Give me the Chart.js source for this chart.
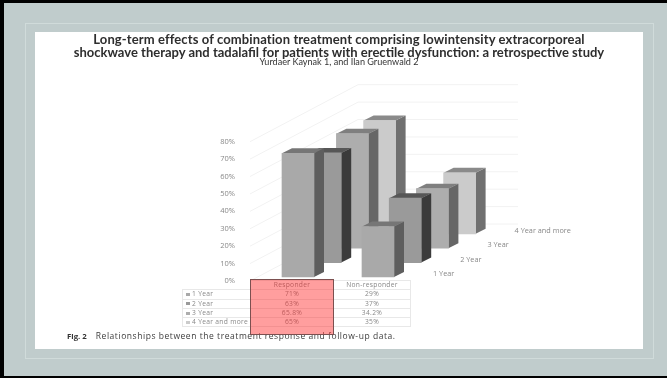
<!DOCTYPE html>
<html>
<head>
<meta charset="utf-8">
<title>Follow-up and treatment response</title>
<script src="https://cdn.jsdelivr.net/npm/chart.js@4"></script>
<style>
  html, body { margin: 0; padding: 0; }
  body { position: relative; width: 667px; height: 378px; overflow: hidden; background: #c0cccc; font-family: Lato, sans-serif; }
  .frame { position: absolute; left: 0; top: 0; height: 372.5px; border-top: 3px solid #000; border-bottom: 3px solid #000; border-left: 4px solid #000; box-sizing: content-box; width: 663px; }
  .inner { position: absolute; left: 25px; top: 23px; width: 627px; height: 334px; border: 1px solid #d0dbda; }
  .sheet { position: absolute; left: 35px; top: 32px; width: 608px; height: 317px; background: #fff; }
  canvas { position: absolute; left: 0; top: 0; }
  .title { position: absolute; left: 35px; width: 608px; text-align: center; font-weight: 700; font-size: 13px; line-height: 13px; top: 33px; color: #2e2e2e; }
  .title span { letter-spacing: .11px; }
  .authors { position: absolute; left: 35px; width: 608px; text-align: center; top: 57px; font-size: 9.1px; line-height: 10px; color: #333; }
  #tabla { position: absolute; left: 182px; top: 280px; border-collapse: collapse; table-layout: fixed; width: 228px; font-family: "Open Sans", sans-serif; font-size: 6.7px; color: #888; }
  #tabla td { height: 9.3px; padding: 0; line-height: 8px; text-align: center; border: 1px solid #e8e8e8; box-sizing: border-box; letter-spacing: .3px; }
  #tabla tr { height: 9.3px; }
  #tabla tr:first-child td:first-child { border: none; }
  #tabla td:first-child { text-align: left; padding-left: 3px; white-space: nowrap; }
  #tabla i { display: inline-block; width: 4px; height: 3px; margin-right: 2px; vertical-align: middle; }
  .caption { position: absolute; left: 67px; top: 331px; font-family: "Open Sans", sans-serif; font-size: 8.5px; line-height: 10px; color: #3c3c3c; letter-spacing: .55px; white-space: nowrap; }
  .caption b { color: #333; margin-right: 9px; letter-spacing: 0; font-size: 7.8px; }
  .marca { position: absolute; left: 250px; top: 279px; width: 82px; height: 54px; border: 1px solid #7c5050; background: rgba(255, 40, 40, .45); }
</style>
</head>
<body>
<div class="frame"></div>
<div class="inner"></div>
<div class="sheet"></div>
<canvas id="grafico" width="667" height="378"></canvas>
<div class="title"><span>Long-term effects of combination treatment comprising lowintensity extracorporeal</span><br>shockwave therapy and tadalafil for patients with erectile dysfunction: a retrospective study</div>
<div class="authors">Yurdaer Kaynak 1, and Ilan Gruenwald 2</div>
<table id="tabla"></table>
<div class="caption"><b>Fig. 2</b>Relationships between the treatment response and follow-up data.</div>
<div class="marca"></div>

<script>
const categorias = ['Responder', 'Non-responder'];
const periodos = ['1 Year', '2 Year', '3 Year', '4 Year and more'];
const ano1 = [71, 29];
const ano2 = [63, 37];
const ano3 = [65.8, 34.2];
const ano4 = [65, 35];
const valores = [ano1, ano2, ano3, ano4];
const marcasEixo = [0, 10, 20, 30, 40, 50, 60, 70, 80];

// frente, lado e topo de cada serie
const coresFrente = ['#a9a9a9', '#9a9a9a', '#adadad', '#cbcbcb'];
const coresLado = ['#5e5e5e', '#3b3b3b', '#666666', '#707070'];
const coresTopo = ['#767676', '#575757', '#7f7f7f', '#8a8a8a'];

// deslocamento de cada serie para o fundo
const passoX = 27.2, passoY = -14.4;
const baseY = -4;
const ladoX = 10, ladoY = -5;

const perspectiva = {
  id: 'perspectiva',
  afterDatasetsUpdate(chart) {
    chart.getSortedVisibleDatasetMetas().forEach(meta => {
      meta.data.forEach(bar => {
        bar.x += meta.index * passoX;
        bar.y += baseY + meta.index * passoY;
        bar.base += baseY + meta.index * passoY;
      });
    });
  },
  beforeDatasetsDraw(chart) {
    // paredes: linhas de grade subindo ate o fundo
    const ctx = chart.ctx;
    const y = chart.scales.y;
    ctx.save();
    ctx.strokeStyle = '#f2f2f2';
    ctx.lineWidth = 1;
    marcasEixo.forEach(v => {
      const py = y.getPixelForValue(v);
      ctx.beginPath();
      ctx.moveTo(250, py);
      ctx.lineTo(358, py - 57);
      ctx.lineTo(518, py - 57);
      ctx.stroke();
    });
    ctx.restore();
  },
  beforeDatasetDraw(chart, args) {
    const ctx = chart.ctx;
    const i = args.index;
    args.meta.data.forEach(bar => {
      const dir = bar.x + bar.width / 2;
      const esq = bar.x - bar.width / 2;
      ctx.fillStyle = coresLado[i];
      ctx.beginPath();
      ctx.moveTo(dir, bar.y);
      ctx.lineTo(dir + ladoX, bar.y + ladoY);
      ctx.lineTo(dir + ladoX, bar.base + ladoY);
      ctx.lineTo(dir, bar.base);
      ctx.closePath();
      ctx.fill();
      ctx.fillStyle = coresTopo[i];
      ctx.beginPath();
      ctx.moveTo(esq, bar.y);
      ctx.lineTo(esq + ladoX, bar.y + ladoY);
      ctx.lineTo(dir + ladoX, bar.y + ladoY);
      ctx.lineTo(dir, bar.y);
      ctx.closePath();
      ctx.fill();
    });
  },
  afterDraw(chart) {
    // nomes das series no eixo de profundidade
    const ctx = chart.ctx;
    const y0 = chart.scales.y.getPixelForValue(0);
    ctx.save();
    ctx.font = '7.3px "Open Sans", sans-serif';
    ctx.fillStyle = '#888888';
    ctx.textBaseline = 'middle';
    periodos.forEach((nome, i) => {
      ctx.fillText(nome, 433 + i * passoX, y0 - 7 + i * passoY);
    });
    ctx.restore();
  }
};

new Chart(document.getElementById('grafico'), {
  type: 'bar',
  data: {
    labels: categorias,
    datasets: periodos.map((nome, i) => ({
      label: nome,
      data: valores[i],
      backgroundColor: coresFrente[i],
      grouped: false,
      barThickness: 32,
      clip: false
    }))
  },
  plugins: [perspectiva],
  options: {
    responsive: false,
    animation: false,
    layout: { padding: { left: 218, right: 249, top: 141.7, bottom: 97 } },
    plugins: { legend: { display: false }, title: { display: false }, tooltip: { enabled: false } },
    scales: {
      x: { display: false },
      y: {
        min: 0,
        max: 80,
        afterFit(scale) { scale.width = 40; },
        grid: { display: false },
        border: { display: false },
        afterBuildTicks(scale) { scale.ticks = marcasEixo.map(v => ({ value: v })); },
        ticks: {
          padding: 15,
          color: '#888888',
          font: { family: '"Open Sans", sans-serif', size: 7.5 },
          callback: v => v + '%'
        }
      }
    }
  }
});

// tabela de dados embaixo do grafico
const tabela = document.getElementById('tabla');
let linhas = '<colgroup><col style="width:68px"><col style="width:83px"><col style="width:77px"></colgroup>';
linhas += '<tr><td></td><td>' + categorias[0] + '</td><td>' + categorias[1] + '</td></tr>';
periodos.forEach((nome, i) => {
  linhas += '<tr><td><i style="background:' + coresFrente[i] + '"></i>' + nome + '</td><td>' + valores[i][0] + '%</td><td>' + valores[i][1] + '%</td></tr>';
});
tabela.innerHTML = linhas;
</script>
</body>
</html>
